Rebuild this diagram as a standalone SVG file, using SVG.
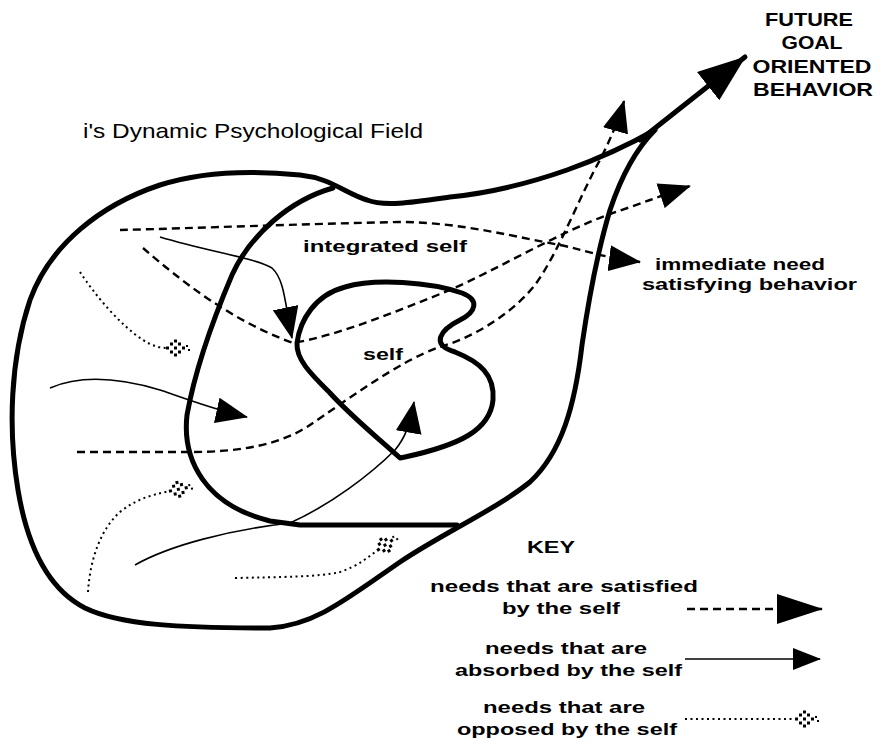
<svg xmlns="http://www.w3.org/2000/svg" width="882" height="745" viewBox="0 0 882 745">
<style>
.bd{fill:none;stroke:#000;stroke-width:5;stroke-linejoin:round;stroke-linecap:round}
.ds{fill:none;stroke:#000;stroke-width:2.4;stroke-dasharray:8 5}
.sl{fill:none;stroke:#000;stroke-width:1.6}
.dt{fill:none;stroke:#000;stroke-width:2;stroke-dasharray:2 3.5}
.lb{font-family:"Liberation Sans","DejaVu Sans",Arial,sans-serif;font-weight:bold;font-size:17px;fill:#000}
.ti{font-family:"Liberation Sans","DejaVu Sans",Arial,sans-serif;font-size:21px;fill:#000}
.cap{font-family:"Liberation Sans","DejaVu Sans",Arial,sans-serif;font-weight:bold;font-size:19px;fill:#000}
</style>
<defs>
<marker id="ah" viewBox="0 0 32 26" refX="31" refY="13" markerWidth="32" markerHeight="26" markerUnits="userSpaceOnUse" orient="auto">
<path d="M0,0 L32,13 L0,26 z" fill="#000"/>
</marker>
<marker id="ahS" viewBox="0 0 28 22" refX="27" refY="11" markerWidth="28" markerHeight="22" markerUnits="userSpaceOnUse" orient="auto">
<path d="M0,0 L28,11 L0,22 z" fill="#000"/>
</marker>
<marker id="keyBig" viewBox="0 0 46 30" refX="45" refY="15" markerWidth="46" markerHeight="30" markerUnits="userSpaceOnUse" orient="auto">
<path d="M0,0 L46,15 L0,30 z" fill="#000"/>
</marker>
<marker id="bigHead" viewBox="0 0 48 36" refX="47" refY="18" markerWidth="48" markerHeight="36" markerUnits="userSpaceOnUse" orient="auto">
<path d="M0,0 L48,18 L0,36 z" fill="#000"/>
</marker>
<marker id="opp" viewBox="-2 -9 28 18" refX="2" refY="0" markerWidth="28" markerHeight="18" markerUnits="userSpaceOnUse" orient="auto">
<g fill="#000">
<rect x="1" y="-1.5" width="3" height="3"/>
<rect x="5" y="-5.5" width="3" height="3"/>
<rect x="5" y="2.5" width="3" height="3"/>
<rect x="9" y="-8.5" width="3" height="3"/>
<rect x="9" y="-1.5" width="3" height="3"/>
<rect x="9" y="5.5" width="3" height="3"/>
<rect x="13" y="-5.5" width="3" height="3"/>
<rect x="13" y="2.5" width="3" height="3"/>
<rect x="17" y="-1.5" width="3" height="3"/>
<rect x="21" y="-3" width="2" height="2"/>
<rect x="23" y="1" width="2" height="2"/>
</g>
</marker>
</defs>

<g id="field">
<path class="bd" d="M655,130 C625,147 595,160 567,170 C530,183 490,193 450,197 C415,202 385,207 367,200 C345,193 330,178 300,175 C250,170 200,172 160,185 C100,205 50,245 30,300 C10,360 8,430 18,490 C28,550 50,590 85,608 C120,625 180,628 270,628 C315,625 345,600 400,562 C445,532 495,510 530,482 C562,452 575,405 582,345 C590,290 598,250 610,210 C620,180 635,150 655,130 Z"/>
</g>
<g id="integrated-self">
<path class="bd" d="M333,188 C290,200 250,235 232,275 C215,315 195,370 187,415 C182,460 205,505 270,521 L300,525 L457,525"/>
</g>
<g id="self">
<path class="bd" d="M297,343 C300,320 315,295 345,287 C375,278 430,282 462,293 C480,300 476,312 460,320 C440,330 430,345 455,352 C480,362 495,375 493,400 C490,430 460,445 405,457 L400,458 C380,440 350,415 330,393 C312,375 296,360 297,343 Z"/>
</g>

<g id="connectors">
<path class="bd" stroke-width="7" d="M640,140 L745,57" marker-end="url(#bigHead)"/>
<path class="ds" d="M120,230 C200,228 300,224 400,222 C460,222 520,238 560,245 C585,250 600,257 640,262" marker-end="url(#ah)"/>
<path class="ds" d="M143,248 C180,280 230,320 293,343 C340,335 400,310 450,290 C500,268 560,232 610,214 C640,204 660,196 690,186" marker-end="url(#ah)"/>
<path class="ds" d="M77,452 L190,452 C240,452 280,445 310,425 C340,405 400,360 440,347 C480,335 515,310 535,285 C560,250 580,195 600,160 C610,140 618,122 624,101" marker-end="url(#ah)"/>
<path class="sl" d="M160,237 C210,252 255,258 272,268 C285,280 285,305 292,338" marker-end="url(#ah)"/>
<path class="sl" d="M50,388 C80,375 120,378 160,390 C190,400 215,410 247,417" marker-end="url(#ah)"/>
<path class="sl" d="M135,565 C170,545 230,530 290,523 C330,505 370,475 395,450 C405,438 410,425 414,402" marker-end="url(#ah)"/>
<path class="dt" d="M80,272 C95,295 120,325 143,340 C152,346 160,348 167,348" marker-end="url(#opp)"/>
<path class="dt" d="M88,592 C90,560 100,530 120,512 C135,500 150,495 170,491" marker-end="url(#opp)"/>
<path class="dt" d="M235,578 C280,577 320,577 340,572 C360,565 368,557 378,550" marker-end="url(#opp)"/>
<path class="ds" stroke-width="3" d="M687,609 L822,609" marker-end="url(#keyBig)"/>
<path class="sl" stroke-width="2.5" d="M685,659 L820,659" marker-end="url(#ahS)"/>
<path class="dt" stroke-dasharray="3 3 3 12" d="M685,719 L796,719" marker-end="url(#opp)"/>
</g>

<g id="labels">
<text class="ti" x="83" y="138" textLength="340" lengthAdjust="spacingAndGlyphs">i's Dynamic Psychological Field</text>
<text class="cap" x="809" y="26" text-anchor="middle" textLength="88" lengthAdjust="spacingAndGlyphs">FUTURE</text>
<text class="cap" x="812" y="49" text-anchor="middle" textLength="61" lengthAdjust="spacingAndGlyphs">GOAL</text>
<text class="cap" x="812" y="73" text-anchor="middle" textLength="119" lengthAdjust="spacingAndGlyphs">ORIENTED</text>
<text class="cap" x="813" y="96" text-anchor="middle" textLength="120" lengthAdjust="spacingAndGlyphs">BEHAVIOR</text>
<text class="lb" x="303" y="252" textLength="164" lengthAdjust="spacingAndGlyphs">integrated self</text>
<text class="lb" x="363" y="360" textLength="40" lengthAdjust="spacingAndGlyphs">self</text>
<text class="lb" x="655" y="270" textLength="170" lengthAdjust="spacingAndGlyphs">immediate need</text>
<text class="lb" x="642" y="290" textLength="215" lengthAdjust="spacingAndGlyphs">satisfying behavior</text>
<text class="lb" x="527" y="553" textLength="48" lengthAdjust="spacingAndGlyphs">KEY</text>
<text class="lb" x="430" y="592" textLength="268" lengthAdjust="spacingAndGlyphs">needs that are satisfied</text>
<text class="lb" x="502" y="614" textLength="118" lengthAdjust="spacingAndGlyphs">by the self</text>
<text class="lb" x="485" y="654" textLength="162" lengthAdjust="spacingAndGlyphs">needs that are</text>
<text class="lb" x="455" y="676" textLength="227" lengthAdjust="spacingAndGlyphs">absorbed by the self</text>
<text class="lb" x="483" y="713" textLength="162" lengthAdjust="spacingAndGlyphs">needs that are</text>
<text class="lb" x="457" y="735" textLength="220" lengthAdjust="spacingAndGlyphs">opposed by the self</text>
</g>
</svg>
